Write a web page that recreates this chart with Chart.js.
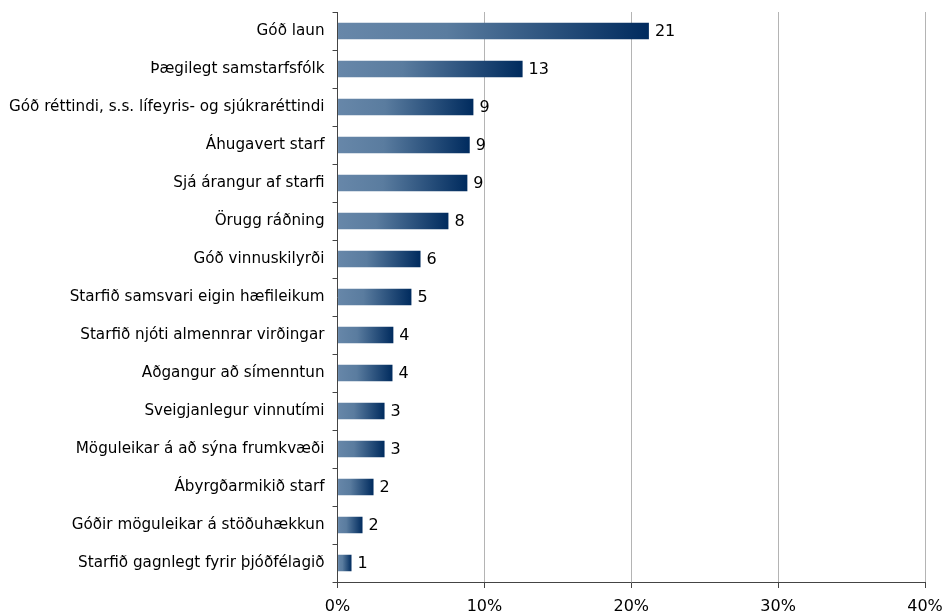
<!DOCTYPE html>
<html>
<head>
<meta charset="utf-8">
<script src="https://cdn.jsdelivr.net/npm/chart.js@4"></script>
<style>
  body { margin: 0; background: #fff; }
  #wrap { width: 945px; height: 614px; }
</style>
</head>
<body>
<div id="wrap"><canvas id="reasonChart"></canvas></div>
<script>
// Categories, share (fraction) and number of answers
var reasons = [
    'Góð laun',
    'Þægilegt samstarfsfólk',
    'Góð réttindi, s.s. lífeyris- og sjúkraréttindi',
    'Áhugavert starf',
    'Sjá árangur af starfi',
    'Örugg ráðning',
    'Góð vinnuskilyrði',
    'Starfið samsvari eigin hæfileikum',
    'Starfið njóti almennrar virðingar',
    'Aðgangur að símenntun',
    'Sveigjanlegur vinnutími',
    'Möguleikar á að sýna frumkvæði',
    'Ábyrgðarmikið starf',
    'Góðir möguleikar á stöðuhækkun',
    'Starfið gagnlegt fyrir þjóðfélagið'
];
var shares = [0.212, 0.126, 0.0925, 0.090, 0.0884, 0.0755, 0.0565, 0.0503, 0.038, 0.0374, 0.032, 0.032, 0.0245, 0.017, 0.0095];
var counts = [21, 13, 9, 9, 9, 8, 6, 5, 4, 4, 3, 3, 2, 2, 1];
var xTicks = [0, 0.1, 0.2, 0.3, 0.4];

// Gradient per bar, light steel blue on the left to navy at the end
function barGradient(context) {
    var chart = context.chart;
    if (!chart.chartArea || !chart.scales.x) {
        return '#3d5f87';
    }
    var x0 = chart.scales.x.getPixelForValue(0);
    var x1 = chart.scales.x.getPixelForValue(context.raw);
    if (x1 - x0 < 1) x1 = x0 + 1;
    var g = chart.ctx.createLinearGradient(x0, 0, x1, 0);
    g.addColorStop(0, '#6787a9');
    g.addColorStop(0.35, '#5a7c9f');
    g.addColorStop(1, '#002b5e');
    return g;
}

// Count labels at the end of each bar
var countLabels = {
    id: 'countLabels',
    afterDatasetsDraw: function(chart) {
        var ctx = chart.ctx;
        var meta = chart.getDatasetMeta(0);
        ctx.save();
        ctx.font = '16px "DejaVu Sans", Verdana, sans-serif';
        ctx.fillStyle = '#000';
        ctx.textAlign = 'left';
        ctx.textBaseline = 'middle';
        meta.data.forEach(function(bar, i) {
            ctx.fillText(String(counts[i]), bar.x + 6, bar.y + 1);
        });
        ctx.restore();
    }
};

var ctx = document.getElementById('reasonChart').getContext('2d');
new Chart(ctx, {
    type: 'bar',
    data: {
        labels: reasons,
        datasets: [{
            data: shares,
            backgroundColor: barGradient,
            borderWidth: 0,
            categoryPercentage: 1,
            barPercentage: 0.43
        }]
    },
    options: {
        indexAxis: 'y',
        responsive: true,
        maintainAspectRatio: false,
        animation: false,
        layout: { padding: { top: 12, left: 1, right: 0, bottom: 0 } },
        scales: {
            x: {
                min: 0,
                max: 0.4,
                afterBuildTicks: function(axis) {
                    axis.ticks = xTicks.map(function(v) { return { value: v }; });
                },
                afterFit: function(scale) {
                    scale.height = 32;
                    scale.paddingRight = 20;
                    scale.paddingLeft = 0;
                },
                ticks: {
                    color: '#000',
                    padding: 9,
                    font: { family: '"DejaVu Sans", Verdana, sans-serif', size: 16 },
                    callback: function(v) { return Math.round(v * 100) + '%'; }
                },
                grid: {
                    color: '#b4b4b4',
                    tickColor: '#444',
                    tickLength: 6,
                    lineWidth: 1
                },
                border: { color: '#444', width: 1 }
            },
            y: {
                afterFit: function(scale) {
                    scale.paddingTop = 0;
                    scale.paddingBottom = 0;
                },
                ticks: {
                    color: '#000',
                    padding: 8,
                    autoSkip: false,
                    font: { family: '"DejaVu Sans", Verdana, sans-serif', size: 15.2 }
                },
                grid: {
                    offset: true,
                    drawOnChartArea: false,
                    tickColor: '#444',
                    tickLength: 5
                },
                border: { color: '#444', width: 1 }
            }
        },
        plugins: {
            legend: { display: false },
            tooltip: { enabled: false }
        }
    },
    plugins: [countLabels]
});
</script>
</body>
</html>
